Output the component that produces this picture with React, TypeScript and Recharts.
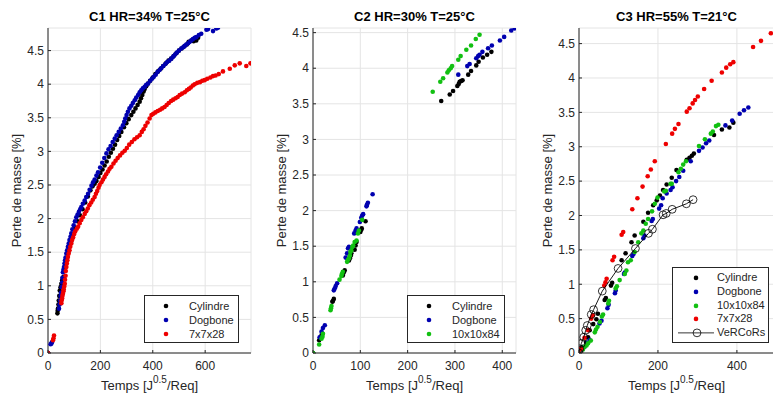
import React from 'react';
import { ScatterChart, Scatter, XAxis, YAxis, CartesianGrid, Legend } from 'recharts';

type Pt = [number, number];

// C1 HR=34% T=25°C
const c1Cylindre: Pt[] = [
  [0, 0], [36, 0.59], [37, 0.63], [38, 0.66], [40, 0.72], [41, 0.78], [43, 0.85], [45, 0.93], [48, 0.98],
  [51, 1.03], [54, 1.08], [57, 1.12], [59, 1.13], [61, 1.12], [72, 1.4], [80, 1.52], [88, 1.65], [96, 1.76],
  [104, 1.86], [113, 1.96], [122, 2.05], [132, 2.14], [142, 2.24], [152, 2.33], [162, 2.42], [170, 2.48],
  [178, 2.52], [185, 2.56], [193, 2.62], [200, 2.68], [208, 2.73], [216, 2.79], [224, 2.85], [232, 2.92],
  [240, 2.98], [248, 3.04], [256, 3.1], [264, 3.17], [272, 3.23], [280, 3.29], [290, 3.36], [299, 3.42],
  [308, 3.48], [318, 3.54], [326, 3.59], [334, 3.64], [342, 3.69], [350, 3.74], [355, 3.79], [360, 3.84],
  [365, 3.89], [369, 3.93], [375, 3.97], [382, 4.01], [390, 4.05], [400, 4.1], [410, 4.15], [420, 4.19],
  [430, 4.23], [440, 4.27], [450, 4.31], [460, 4.35], [470, 4.38], [480, 4.42], [490, 4.46], [500, 4.5],
  [510, 4.53], [520, 4.56], [530, 4.59], [537, 4.63], [547, 4.65], [556, 4.64], [566, 4.65], [573, 4.69],
];
const c1Dogbone: Pt[] = [
  [0, 0], [10, 0.13], [13, 0.14], [15, 0.16], [42, 0.66], [44, 0.72], [46, 0.78], [48, 0.85], [50, 0.9],
  [52, 0.98], [54, 1.05], [55, 1.12], [57, 1.2], [59, 1.24], [61, 1.28], [63, 1.33], [65, 1.38], [67, 1.42],
  [70, 1.48], [73, 1.53], [76, 1.58], [79, 1.63], [82, 1.68], [86, 1.73], [89, 1.78], [93, 1.84], [98, 1.9],
  [103, 1.96], [108, 2.02], [113, 2.06], [118, 2.1], [123, 2.14], [127, 2.17], [133, 2.22], [140, 2.27],
  [146, 2.32], [153, 2.37], [159, 2.43], [166, 2.49], [172, 2.54], [178, 2.58], [185, 2.64], [191, 2.69],
  [199, 2.76], [207, 2.83], [215, 2.9], [223, 2.97], [231, 3.03], [239, 3.08], [247, 3.14], [255, 3.19],
  [262, 3.24], [270, 3.29], [278, 3.34], [286, 3.39], [291, 3.44], [295, 3.49], [300, 3.54], [305, 3.59],
  [311, 3.64], [318, 3.68], [324, 3.72], [331, 3.76], [337, 3.8], [344, 3.84], [350, 3.88], [356, 3.91],
  [362, 3.94], [369, 3.96], [375, 3.99], [382, 4.01], [390, 4.05], [397, 4.08], [404, 4.11], [411, 4.14],
  [418, 4.18], [426, 4.21], [433, 4.24], [440, 4.27], [448, 4.3], [455, 4.33], [463, 4.35], [471, 4.38],
  [478, 4.41], [485, 4.44], [492, 4.47], [500, 4.5], [509, 4.53], [516, 4.55], [522, 4.57], [528, 4.59],
  [535, 4.61], [541, 4.63], [547, 4.65], [553, 4.67], [560, 4.69], [566, 4.7], [576, 4.73], [585, 4.75],
  [605, 4.81], [611, 4.82], [630, 4.79], [643, 4.83], [649, 4.84],
];
const c1Seven: Pt[] = [
  [0, 0], [19, 0.19], [21, 0.22], [23, 0.26], [51, 0.74], [52, 0.78], [54, 0.81], [55, 0.85], [57, 0.88],
  [59, 0.92], [60, 0.95], [62, 0.99], [64, 1.03], [65, 1.09], [67, 1.15], [68, 1.22], [70, 1.28], [72, 1.33],
  [74, 1.38], [76, 1.43], [79, 1.48], [82, 1.53], [85, 1.58], [89, 1.63], [92, 1.68], [96, 1.72], [100, 1.77],
  [104, 1.81], [110, 1.85], [115, 1.88], [121, 1.93], [127, 1.98], [133, 2.02], [140, 2.07], [146, 2.11],
  [152, 2.15], [158, 2.2], [165, 2.24], [171, 2.28], [178, 2.32], [183, 2.37], [188, 2.41], [193, 2.46],
  [197, 2.5], [204, 2.54], [210, 2.58], [216, 2.62], [222, 2.66], [229, 2.7], [235, 2.74], [242, 2.77],
  [250, 2.82], [258, 2.86], [266, 2.9], [275, 2.94], [284, 2.98], [293, 3.01], [301, 3.05], [310, 3.1],
  [320, 3.14], [330, 3.18], [340, 3.21], [350, 3.24], [358, 3.29], [365, 3.33], [372, 3.38], [380, 3.43],
  [388, 3.49], [395, 3.54], [402, 3.56], [410, 3.58], [419, 3.6], [428, 3.62], [436, 3.64], [445, 3.66],
  [453, 3.69], [461, 3.72], [470, 3.75], [478, 3.77], [487, 3.79], [495, 3.81], [503, 3.84], [512, 3.86],
  [522, 3.88], [530, 3.91], [538, 3.93], [545, 3.95], [553, 3.98], [560, 4.0], [570, 4.02], [580, 4.03],
  [589, 4.05], [598, 4.06], [608, 4.08], [620, 4.1], [630, 4.12], [640, 4.13], [652, 4.15], [668, 4.19],
  [694, 4.23], [713, 4.28], [732, 4.31], [757, 4.27], [773, 4.31],
];

// C2 HR=30% T=25°C
const c2Cylindre: Pt[] = [
  [0, 0], [13, 0.18], [16, 0.22], [18, 0.25], [20, 0.27], [41, 0.72], [42, 0.73], [44, 0.76], [63, 1.09],
  [65, 1.13], [67, 1.16], [76, 1.3], [78, 1.33], [80, 1.37], [81, 1.4], [88, 1.45], [90, 1.51], [92, 1.56],
  [100, 1.7], [102, 1.73], [103, 1.75], [111, 1.85],
  [271, 3.54], [289, 3.63], [296, 3.68], [305, 3.75], [308, 3.78], [310, 3.81], [313, 3.82], [316, 3.83],
  [328, 3.91], [334, 3.96], [345, 4.04], [350, 4.09], [359, 4.15], [368, 4.19], [377, 4.23],
];
const c2Dogbone: Pt[] = [
  [14, 0.22], [18, 0.3], [21, 0.35], [25, 0.39], [44, 0.88], [46, 0.91], [48, 0.94], [51, 0.98], [69, 1.34],
  [72, 1.4], [74, 1.47], [76, 1.49], [87, 1.68], [90, 1.72], [92, 1.75], [99, 1.84], [102, 1.9], [104, 1.93],
  [106, 1.95], [113, 2.06], [114, 2.08], [116, 2.11], [126, 2.23],
  [307, 3.91], [326, 4.03], [331, 4.06], [345, 4.14], [349, 4.17], [352, 4.19], [358, 4.23], [370, 4.28],
  [378, 4.32], [395, 4.39], [404, 4.44], [419, 4.53], [426, 4.56],
];
const c2Ten: Pt[] = [
  [0, 0], [13, 0.12], [18, 0.2], [20, 0.23], [21, 0.27], [37, 0.6], [38, 0.63], [39, 0.66], [56, 1.03],
  [60, 1.08], [61, 1.11], [63, 1.14], [72, 1.28], [74, 1.31], [76, 1.33], [78, 1.37], [79, 1.42], [81, 1.44],
  [83, 1.49], [85, 1.51], [88, 1.56], [92, 1.58], [95, 1.68], [97, 1.72], [104, 1.87],
  [253, 3.67], [269, 3.81], [275, 3.86], [284, 3.94], [287, 3.97], [291, 4.0], [294, 4.03], [307, 4.12],
  [312, 4.17], [324, 4.26], [334, 4.32], [344, 4.41], [352, 4.47],
];

// C3 HR=55% T=21°C
const c3Cylindre: Pt[] = [
  [0, 0], [5, 0.05], [10, 0.09], [18, 0.15], [23, 0.23], [27, 0.33], [36, 0.42], [44, 0.49], [48, 0.57],
  [65, 0.77], [68, 0.8], [81, 0.98], [84, 1.02], [108, 1.35], [118, 1.45], [133, 1.61], [141, 1.71],
  [163, 1.91], [175, 2.04], [188, 2.15], [197, 2.22], [205, 2.29], [213, 2.37], [222, 2.45], [235, 2.55],
  [247, 2.66], [273, 2.81], [280, 2.84], [286, 2.87], [291, 2.9], [342, 3.17], [362, 3.25], [381, 3.28],
  [391, 3.35],
];
const c3Dogbone: Pt[] = [
  [0, 0], [6, 0.05], [14, 0.09], [22, 0.15], [27, 0.19], [52, 0.43], [57, 0.47], [72, 0.65], [75, 0.7],
  [91, 0.87], [93, 0.91], [114, 1.15], [116, 1.17], [135, 1.41], [138, 1.44], [163, 1.67], [166, 1.71],
  [184, 1.92], [187, 1.95], [203, 2.1], [208, 2.15], [212, 2.25], [222, 2.32], [232, 2.37], [237, 2.41],
  [246, 2.5], [254, 2.56], [264, 2.65], [283, 2.79], [304, 2.94], [313, 2.99], [322, 3.05], [330, 3.09],
  [371, 3.31], [388, 3.38], [407, 3.48], [418, 3.53], [429, 3.57],
];
const c3Ten: Pt[] = [
  [0, 0], [10, 0.05], [14, 0.09], [19, 0.11], [23, 0.14], [30, 0.18], [40, 0.3], [43, 0.34], [47, 0.38],
  [53, 0.45], [58, 0.53], [61, 0.56], [74, 0.72], [76, 0.76], [93, 0.94], [96, 0.97], [103, 1.06],
  [116, 1.15], [120, 1.2], [124, 1.32], [131, 1.35], [141, 1.47], [150, 1.61], [158, 1.74], [163, 1.78],
  [169, 1.88], [175, 1.95], [185, 2.06], [192, 2.17], [199, 2.26], [216, 2.35], [220, 2.36], [232, 2.46],
  [235, 2.46], [252, 2.63], [258, 2.68], [264, 2.74], [271, 2.79], [304, 3.01], [319, 3.11], [334, 3.19],
  [339, 3.22], [347, 3.3], [353, 3.32],
];
const c3Seven: Pt[] = [
  [0, 0], [5, 0.06], [14, 0.22], [23, 0.33], [31, 0.5], [35, 0.55], [64, 0.98], [67, 1.03], [70, 1.08],
  [85, 1.35], [89, 1.4], [108, 1.72], [112, 1.76], [135, 2.09], [148, 2.25], [161, 2.42], [174, 2.57],
  [182, 2.67], [192, 2.79], [220, 3.04], [236, 3.19], [243, 3.26], [252, 3.33], [273, 3.51], [280, 3.56],
  [288, 3.63], [294, 3.68], [301, 3.73], [317, 3.84], [336, 3.96], [362, 4.08], [373, 4.15], [383, 4.2],
  [391, 4.23], [441, 4.45], [461, 4.54], [486, 4.65],
];
const c3Vercors: Pt[] = [
  [0, 0], [2, 0.06], [6, 0.14], [12, 0.23], [17, 0.33], [21, 0.4], [31, 0.56], [37, 0.63], [59, 0.9],
  [99, 1.23], [143, 1.52], [176, 1.74], [186, 1.8], [213, 2.01], [221, 2.03], [236, 2.09], [272, 2.17],
  [289, 2.23],
];

const yTicks = [0, 0.5, 1, 1.5, 2, 2.5, 3, 3.5, 4, 4.5];
const c1XTicks = [0, 200, 400, 600];
const c2XTicks = [0, 100, 200, 300, 400];
const c3XTicks = [0, 200, 400];

const AXIS = '#262626';
const GRID = '#e4e4e4';
const FONT = '"Liberation Sans", Arial, Helvetica, sans-serif';
const BLACK = '#000000';
const BLUE = '#0000b0';
const GREEN = '#12c012';
const RED = '#ee0000';

const toXY = (pts: Pt[]) => pts.map(([x, y]) => ({ x, y }));

const dotShape = (color: string) => (p: any) => <circle cx={p.cx} cy={p.cy} r={2.3} fill={color} />;
const ringShape = (p: any) => <circle cx={p.cx} cy={p.cy} r={3.9} fill="none" stroke="#000" strokeWidth={0.8} />;

const LeftTick = ({ x, y, payload }: any) => (
  <g>
    <line x1={x + 4} x2={x + 7} y1={y} y2={y} stroke={AXIS} />
    <text x={x} y={y} dy="0.355em" textAnchor="end" fontSize={12} fill={AXIS} fontFamily={FONT}>
      {String(payload.value)}
    </text>
  </g>
);
const BottomTick = ({ x, y, payload }: any) => (
  <g>
    <line x1={x} x2={x} y1={y - 8} y2={y - 11} stroke={AXIS} />
    <text x={x} y={y} dy="0.71em" textAnchor="middle" fontSize={12} fill={AXIS} fontFamily={FONT}>
      {String(payload.value)}
    </text>
  </g>
);
const RightTick = ({ x, y }: any) => <line x1={x} x2={x - 3} y1={y} y2={y} stroke={AXIS} />;
const TopTick = ({ x, y }: any) => <line x1={x} x2={x} y1={y} y2={y + 3} stroke={AXIS} />;

const XLabel = ({ viewBox }: any) => (
  <text x={viewBox.x + viewBox.width / 2} y={viewBox.y + 37} textAnchor="middle" fontSize={13} fill={AXIS} fontFamily={FONT}>
    <tspan>Temps [J</tspan>
    <tspan dy={-7} fontSize={10}>0.5</tspan>
    <tspan dy={7}>/Req]</tspan>
  </text>
);
const YLabel = ({ viewBox }: any) => {
  const bx = viewBox.x + viewBox.width - 27.5;
  const cy = viewBox.y + viewBox.height / 2;
  return (
    <text x={bx} y={cy} transform={`rotate(-90 ${bx} ${cy})`} textAnchor="middle" fontSize={13} fill={AXIS} fontFamily={FONT}>
      Perte de masse [%]
    </text>
  );
};

interface SeriesDef {
  name: string;
  pts: Pt[];
  color: string;
  ring?: boolean;
}

interface PanelProps {
  left: number;
  width: number;
  right: number;
  title: string;
  xMax: number;
  yMax: number;
  xTicks: number[];
  series: SeriesDef[];
  legend: { left: number; top: number; width: number; rowH: number; padTop: number; mark: number; text: number };
}

function LegendBox({ series, legend }: { series: SeriesDef[]; legend: PanelProps['legend'] }) {
  return (
    <div
      style={{
        width: legend.width,
        boxSizing: 'border-box',
        border: `1px solid ${AXIS}`,
        background: '#fff',
        paddingTop: legend.padTop,
        paddingBottom: legend.padTop - 1,
        fontFamily: FONT,
        fontSize: 11,
        color: AXIS,
      }}
    >
      {series.map((s) => (
        <div key={s.name} style={{ position: 'relative', height: legend.rowH }}>
          <svg width={legend.text} height={legend.rowH} style={{ position: 'absolute', left: 0, top: 0 }}>
            {s.ring ? (
              <g>
                <line x1={legend.mark - 19} x2={legend.mark + 17} y1={legend.rowH / 2} y2={legend.rowH / 2} stroke="#000" strokeWidth={0.8} />
                <circle cx={legend.mark} cy={legend.rowH / 2} r={3.9} fill="none" stroke="#000" strokeWidth={0.8} />
              </g>
            ) : (
              <circle cx={legend.mark - 1} cy={legend.rowH / 2} r={2.3} fill={s.color} />
            )}
          </svg>
          <span style={{ position: 'absolute', left: legend.text - 1, top: 0, lineHeight: `${legend.rowH}px`, whiteSpace: 'nowrap' }}>
            {s.name}
          </span>
        </div>
      ))}
    </div>
  );
}

function Panel({ left, width, right, title, xMax, yMax, xTicks, series, legend }: PanelProps) {
  const plotW = width - 48 - right;
  return (
    <div style={{ position: 'absolute', left, top: 0, width, height: 395 }}>
      <div
        style={{
          position: 'absolute',
          left: 48,
          width: plotW,
          top: 9,
          textAlign: 'center',
          fontFamily: FONT,
          fontWeight: 'bold',
          fontSize: 13,
          lineHeight: '15px',
          color: '#000',
          whiteSpace: 'nowrap',
        }}
      >
        {title}
      </div>
      <ScatterChart width={width} height={395} margin={{ top: 28, right, bottom: 0, left: 0 }}>
        <CartesianGrid stroke={GRID} strokeWidth={1} />
        <XAxis
          type="number"
          dataKey="x"
          domain={[0, xMax]}
          ticks={xTicks}
          allowDataOverflow
          height={42}
          tickSize={0}
          tickMargin={8}
          tickLine={false}
          tick={<BottomTick />}
          axisLine={{ stroke: AXIS }}
          label={<XLabel />}
        />
        <XAxis
          xAxisId="top"
          orientation="top"
          type="number"
          domain={[0, xMax]}
          ticks={xTicks}
          allowDataOverflow
          height={0}
          tickSize={0}
          tickMargin={0}
          tickLine={false}
          tick={<TopTick />}
          axisLine={{ stroke: AXIS }}
        />
        <YAxis
          type="number"
          dataKey="y"
          domain={[0, yMax]}
          ticks={yTicks}
          allowDataOverflow
          width={48}
          tickSize={0}
          tickMargin={4}
          tickLine={false}
          tick={<LeftTick />}
          axisLine={{ stroke: AXIS }}
          label={<YLabel />}
        />
        <YAxis
          yAxisId="right"
          orientation="right"
          type="number"
          domain={[0, yMax]}
          ticks={yTicks}
          allowDataOverflow
          width={0}
          tickSize={0}
          tickMargin={0}
          tickLine={false}
          tick={<RightTick />}
          axisLine={{ stroke: AXIS }}
        />
        {series.map((s) =>
          s.ring ? (
            <Scatter
              key={s.name}
              name={s.name}
              data={toXY(s.pts)}
              fill="#000"
              line={{ stroke: '#000', strokeWidth: 0.9 }}
              shape={ringShape}
              isAnimationActive={false}
            />
          ) : (
            <Scatter key={s.name} name={s.name} data={toXY(s.pts)} fill={s.color} shape={dotShape(s.color)} isAnimationActive={false} />
          )
        )}
        <Legend
          layout="vertical"
          verticalAlign="middle"
          align="center"
          wrapperStyle={{ left: legend.left, top: legend.top, width: legend.width, right: 'auto', bottom: 'auto' }}
          content={() => <LegendBox series={series} legend={legend} />}
        />
      </ScatterChart>
    </div>
  );
}

export default function App() {
  return (
    <div style={{ position: 'absolute', left: 0, top: 0, width: 773, height: 395, background: '#fff', overflow: 'hidden' }}>
      <Panel
        left={0}
        width={260}
        right={9}
        title="C1 HR=34% T=25°C"
        xMax={775}
        yMax={4.836}
        xTicks={c1XTicks}
        series={[
          { name: 'Cylindre', pts: c1Cylindre, color: BLACK },
          { name: 'Dogbone', pts: c1Dogbone, color: BLUE },
          { name: '7x7x28', pts: c1Seven, color: RED },
        ]}
        legend={{ left: 144, top: 295, width: 95, rowH: 14, padTop: 2.5, mark: 22, text: 45 }}
      />
      <Panel
        left={265}
        width={260}
        right={9}
        title="C2 HR=30% T=25°C"
        xMax={429}
        yMax={4.565}
        xTicks={c2XTicks}
        series={[
          { name: 'Cylindre', pts: c2Cylindre, color: BLACK },
          { name: 'Dogbone', pts: c2Dogbone, color: BLUE },
          { name: '10x10x84', pts: c2Ten, color: GREEN },
        ]}
        legend={{ left: 142, top: 295, width: 98, rowH: 14, padTop: 2.5, mark: 22, text: 45 }}
      />
      <Panel
        left={531}
        width={243}
        right={0}
        title="C3 HR=55% T=21°C"
        xMax={494}
        yMax={4.727}
        xTicks={c3XTicks}
        series={[
          { name: 'Cylindre', pts: c3Cylindre, color: BLACK },
          { name: 'Dogbone', pts: c3Dogbone, color: BLUE },
          { name: '10x10x84', pts: c3Ten, color: GREEN },
          { name: '7x7x28', pts: c3Seven, color: RED },
          { name: 'VeRCoRs', pts: c3Vercors, color: '#000', ring: true },
        ]}
        legend={{ left: 141, top: 267, width: 97, rowH: 13.75, padTop: 3, mark: 24, text: 45 }}
      />
    </div>
  );
}
